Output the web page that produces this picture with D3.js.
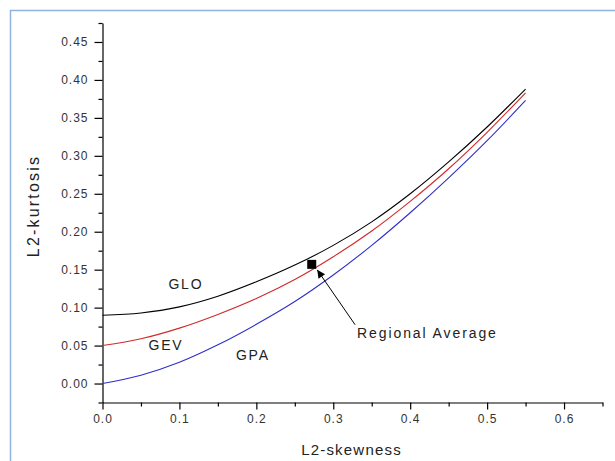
<!DOCTYPE html>
<html>
<head>
<meta charset="utf-8">
<script src="https://cdn.jsdelivr.net/npm/d3@7/dist/d3.min.js"></script>
<style>
  body { margin: 0; background: #fff; }
  svg { display: block; font-family: Arial, "Liberation Sans", sans-serif; }
</style>
</head>
<body>
<svg id="chart" width="615" height="461"></svg>
<script>
// L-moment ratio diagram: theoretical curves and the regional average point
const skewness = [0.00, 0.05, 0.10, 0.15, 0.20, 0.25, 0.30, 0.35, 0.40, 0.45, 0.50, 0.55];
const gloKurtosis = [0.090, 0.093, 0.101, 0.115, 0.134, 0.156, 0.182, 0.213, 0.250, 0.292, 0.338, 0.388];
const gevKurtosis = [0.050, 0.059, 0.073, 0.091, 0.112, 0.137, 0.167, 0.201, 0.240, 0.283, 0.331, 0.383];
const gpaKurtosis = [0.000, 0.011, 0.028, 0.051, 0.078, 0.108, 0.143, 0.182, 0.225, 0.271, 0.320, 0.373];
const regionalAverage = [0.272, 0.157];

const xMajorTicks = [0.0, 0.1, 0.2, 0.3, 0.4, 0.5, 0.6];
const xMinorTicks = [0.05, 0.15, 0.25, 0.35, 0.45, 0.55, 0.65];
const yMajorTicks = [0.00, 0.05, 0.10, 0.15, 0.20, 0.25, 0.30, 0.35, 0.40, 0.45];
const yMinorTicks = [-0.025, 0.025, 0.075, 0.125, 0.175, 0.225, 0.275, 0.325, 0.375, 0.425, 0.475];

const seriesNames = ["GLO", "GEV", "GPA"];
const seriesColors = ["#000000", "#d02a2a", "#2f2fc8"];
const seriesValues = [gloKurtosis, gevKurtosis, gpaKurtosis];
// label anchor points in data units [skewness, kurtosis]
const seriesLabelPos = [[0.1084, 0.1245], [0.0825, 0.0441], [0.1955, 0.031]];

const svg = d3.select("#chart");

// outer frame
svg.append("rect")
  .attr("x", 10.5).attr("y", 10.5)
  .attr("width", 700).attr("height", 600)
  .attr("fill", "none")
  .attr("stroke", "#92b2de")
  .attr("stroke-width", 1.5);

const x = d3.scaleLinear().domain([0, 0.65]).range([102.5, 602.5]);
const y = d3.scaleLinear().domain([-0.025, 0.475]).range([402.5, 23]);

const tickFont = "12px";
const tickColor = "#333";

// x axis
svg.append("g").attr("transform", `translate(0,${y(-0.025)})`)
  .call(d3.axisBottom(x).tickValues(xMajorTicks).tickSize(7).tickSizeOuter(0).tickPadding(5)
    .tickFormat(d3.format(".1f")));
svg.append("g").attr("transform", `translate(0,${y(-0.025)})`)
  .call(d3.axisBottom(x).tickValues(xMinorTicks).tickSize(4).tickSizeOuter(0).tickFormat(""))
  .call(g => g.select(".domain").remove());

// y axis
svg.append("g").attr("transform", `translate(${x(0)},0)`)
  .call(d3.axisLeft(y).tickValues(yMajorTicks).tickSize(8).tickSizeOuter(0).tickPadding(6)
    .tickFormat(d3.format(".2f")));
svg.append("g").attr("transform", `translate(${x(0)},0)`)
  .call(d3.axisLeft(y).tickValues(yMinorTicks).tickSize(4).tickSizeOuter(0).tickFormat(""))
  .call(g => g.select(".domain").remove());

svg.selectAll(".domain, .tick line").attr("stroke", "#000").attr("stroke-width", 1.2);
svg.selectAll(".tick text")
  .attr("fill", tickColor)
  .style("font-size", tickFont)
  .style("font-family", "Arial, 'Liberation Sans', sans-serif")
  .style("letter-spacing", "1px");

// axis titles
svg.append("text")
  .attr("x", 351.5).attr("y", 455)
  .attr("text-anchor", "middle")
  .attr("fill", "#222")
  .style("font-size", "15px")
  .style("letter-spacing", "1.2px")
  .text("L2-skewness");

svg.append("text")
  .attr("transform", "translate(39,206) rotate(-90)")
  .attr("text-anchor", "middle")
  .attr("fill", "#222")
  .style("font-size", "16px")
  .style("letter-spacing", "2.2px")
  .text("L2-kurtosis");

// theoretical curves
const line = d3.line()
  .x((d, i) => x(skewness[i]))
  .y(d => y(d))
  .curve(d3.curveCatmullRom.alpha(0.5));

seriesValues.forEach((vals, k) => {
  svg.append("path")
    .datum(vals)
    .attr("d", line)
    .attr("fill", "none")
    .attr("stroke", seriesColors[k])
    .attr("stroke-width", 1.1);
  svg.append("text")
    .attr("x", x(seriesLabelPos[k][0]))
    .attr("y", y(seriesLabelPos[k][1]))
    .attr("text-anchor", "middle")
    .attr("fill", "#222")
    .style("font-size", "14px")
    .style("letter-spacing", "1.8px")
    .text(seriesNames[k]);
});

// regional average marker
const px = x(regionalAverage[0]), py = y(regionalAverage[1]);
const side = 9;
svg.append("rect")
  .attr("x", px - side / 2).attr("y", py - side / 2)
  .attr("width", side).attr("height", side)
  .attr("fill", "#000");

// annotation arrow
const defs = svg.append("defs");
defs.append("marker")
  .attr("id", "arrowhead")
  .attr("viewBox", "0 0 10 10")
  .attr("refX", 10).attr("refY", 5)
  .attr("markerWidth", 11).attr("markerHeight", 8)
  .attr("markerUnits", "userSpaceOnUse")
  .attr("orient", "auto")
  .append("path")
  .attr("d", "M0,0 L10,5 L0,10 Z")
  .attr("fill", "#000");

const labelX = x(0.331), labelY = y(0.0603);
svg.append("line")
  .attr("x1", labelX - 2).attr("y1", labelY - 13)
  .attr("x2", px + side / 2 + 1).attr("y2", py + side / 2 + 1)
  .attr("stroke", "#000")
  .attr("stroke-width", 1)
  .attr("marker-end", "url(#arrowhead)");

svg.append("text")
  .attr("x", labelX).attr("y", labelY)
  .attr("fill", "#222")
  .style("font-size", "14px")
  .style("letter-spacing", "1.9px")
  .text("Regional Average");
</script>
</body>
</html>
